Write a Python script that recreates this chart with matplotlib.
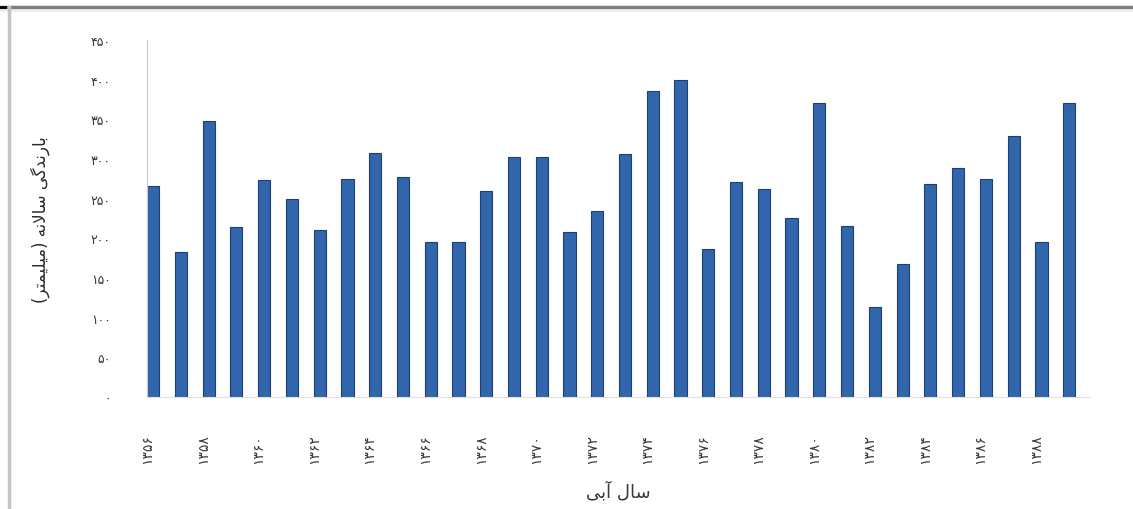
import matplotlib
matplotlib.use("Agg")
import matplotlib.pyplot as plt
from matplotlib.lines import Line2D
import numpy as np

# ---- data ----
rainfall = [266, 183, 348, 214, 273, 250, 210, 275, 308, 277, 195, 195,
            260, 302, 302, 208, 235, 306, 386, 399, 187, 271, 262, 226,
            371, 216, 113, 168, 268, 289, 275, 329, 195, 371]
year_labels = ['۱۳۵۶', '۱۳۵۸', '۱۳۶۰', '۱۳۶۲', '۱۳۶۴', '۱۳۶۶', '۱۳۶۸',
               '۱۳۷۰', '۱۳۷۲', '۱۳۷۴', '۱۳۷۶', '۱۳۷۸', '۱۳۸۰', '۱۳۸۲',
               '۱۳۸۴', '۱۳۸۶', '۱۳۸۸']
y_ticks = [0, 50, 100, 150, 200, 250, 300, 350, 400, 450]
y_tick_labels = ['۰', '۵۰', '۱۰۰', '۱۵۰', '۲۰۰', '۲۵۰', '۳۰۰', '۳۵۰', '۴۰۰', '۴۵۰']
# Persian text, shaped into presentation forms in visual (left-to-right) order
y_title = '(ﺮﺘﻤﯿﻠﯿﻣ) ﻪﻧﻻﺎﺳ ﯽﮔﺪﻧﺭﺎﺑ'   # بارندگی سالانه (میلیمتر)
x_title = 'ﯽﺑﺁ ﻝﺎﺳ'                      # سال آبی

plt.rcParams['font.family'] = ['DejaVu Sans']

fig = plt.figure(figsize=(11.33, 5.10), dpi=100)
ax = fig.add_axes([147/1133, 1 - 398/510, (1090 - 147)/1133, (398 - 41)/510])

x = np.arange(len(rainfall))
ax.bar(x, rainfall, width=0.44, color='#3166AD', edgecolor='#1E3F75', linewidth=0.8)

ax.set_xlim(-0.22, len(rainfall) - 0.25)
ax.set_ylim(0, 450)

ax.set_yticks(y_ticks)
ax.set_yticklabels(y_tick_labels, fontsize=9, color='#383838')
ax.tick_params(axis='y', length=0, pad=26)

ax.set_xticks(x[::2] - 0.2)
ax.set_xticklabels(year_labels, rotation=90, fontsize=10, color='#383838')
ax.tick_params(axis='x', length=0, pad=26)

for s in ['top', 'right']:
    ax.spines[s].set_visible(False)
ax.spines['left'].set_color('#c8c8c8')
ax.spines['bottom'].set_color('#e0e0e0')

ax.set_ylabel(y_title, fontsize=12, color='#2a2a2a')
ax.yaxis.set_label_coords(-0.103, 0.5)
ax.set_xlabel(x_title, fontsize=13, color='#383838')
ax.xaxis.set_label_coords(0.5, -0.235)

# frame decorations
fig.add_artist(Line2D([0, 1], [1 - 7.5/510] * 2, transform=fig.transFigure,
                      color='#7f7f7f', lw=2.5))
fig.add_artist(Line2D([0, 1], [1 - 12/510] * 2, transform=fig.transFigure,
                      color='#ededed', lw=1.5))
fig.add_artist(Line2D([9/1133] * 2, [0, 1 - 8/510], transform=fig.transFigure,
                      color='#c4c4c4', lw=2.5))
fig.add_artist(Line2D([0, 5/1133], [1 - 7.5/510] * 2, transform=fig.transFigure,
                      color='black', lw=2))

fig.savefig('out.png', dpi=100)
